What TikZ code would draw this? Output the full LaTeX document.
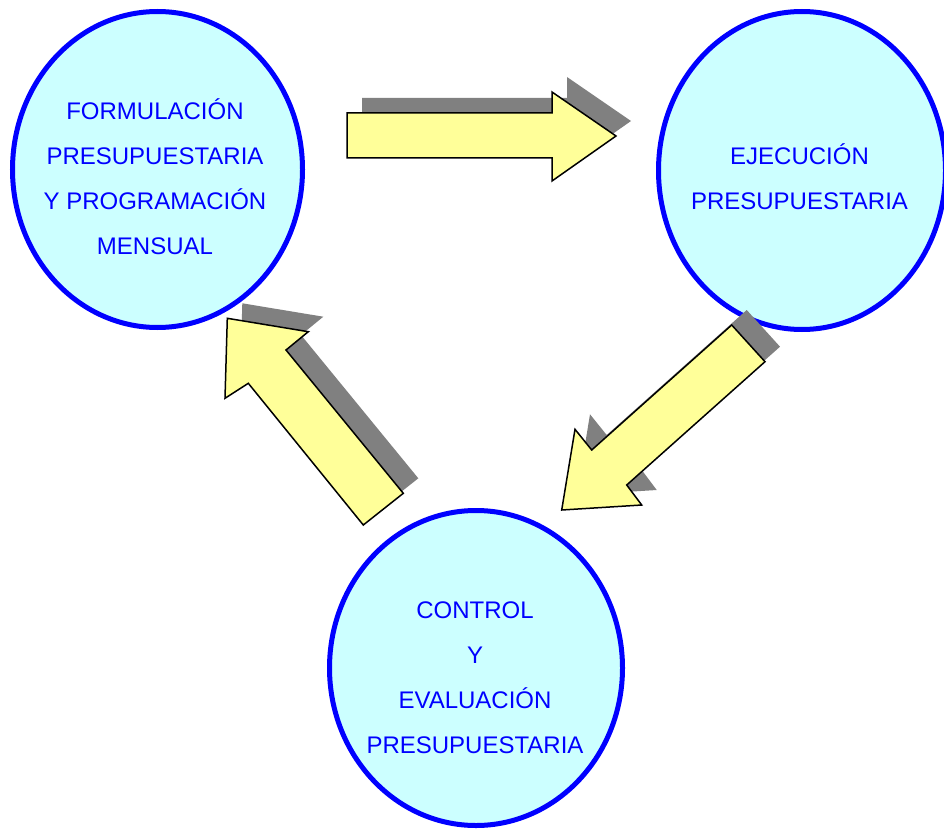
\documentclass[tikz,border=0pt]{standalone}
\usepackage{fontspec}
\setmainfont{Liberation Sans}
\usetikzlibrary{shapes.geometric}
\definecolor{ellfill}{RGB}{204,255,255}
\definecolor{arrfill}{RGB}{255,255,153}
\definecolor{shadowgray}{RGB}{128,128,128}
\begin{document}
\begin{tikzpicture}[x=1pt,y=-1pt,
  stage/.style={ellipse, draw=blue, line width=5pt, fill=ellfill, inner sep=0pt},
  stagetext/.style={text=blue, align=center, font=\fontsize{24}{45}\selectfont, inner sep=0pt},
  blockarrow/.style={fill=arrfill, draw=black, line width=1.5pt, line join=miter},
  arrowshadow/.style={fill=shadowgray, draw=none, shift={(15,-15)}}]
\useasboundingbox[fill=white] (0,0) rectangle (944,829);

% stages
\node[stage, minimum width=290pt, minimum height=316pt] (form) at (157.5,169.5) {};
\node[stage, minimum width=287pt, minimum height=318pt] (ejec) at (802,170.5) {};
\node[stage, minimum width=293pt, minimum height=315pt] (ctrl) at (476,668) {};

\node[stagetext] (formtext) at (155,176.7) {FORMULACIÓN\\PRESUPUESTARIA\\Y PROGRAMACIÓN\\MENSUAL};
\node[stagetext] (ejectext) at (799.5,176.3) {EJECUCIÓN\\PRESUPUESTARIA};
\node[stagetext] (ctrltext) at (475,677.5) {CONTROL\\Y\\EVALUACIÓN\\PRESUPUESTARIA};

% arrow 1: formulacion -> ejecucion
\fill[arrowshadow] (347,113) -- (552,113) -- (552,92) -- (616,136) -- (552,181) -- (552,158) -- (347,158) -- cycle;
\filldraw[blockarrow] (347,113) -- (552,113) -- (552,92) -- (616,136) -- (552,181) -- (552,158) -- (347,158) -- cycle;

% arrow 2: ejecucion -> control
\fill[arrowshadow] (731.7,325) -- (591.7,450) -- (575,429.3) -- (561.7,510) -- (641.7,505) -- (626.7,485) -- (765,361.7) -- cycle;
\filldraw[blockarrow] (731.7,325) -- (591.7,450) -- (575,429.3) -- (561.7,510) -- (641.7,505) -- (626.7,485) -- (765,361.7) -- cycle;

% arrow 3: control -> formulacion
\fill[arrowshadow] (363.3,525) -- (248.3,383.3) -- (225,398.3) -- (227.3,318.3) -- (308.3,331.7) -- (286,350) -- (403.3,493.3) -- cycle;
\filldraw[blockarrow] (363.3,525) -- (248.3,383.3) -- (225,398.3) -- (227.3,318.3) -- (308.3,331.7) -- (286,350) -- (403.3,493.3) -- cycle;
\end{tikzpicture}
\end{document}
